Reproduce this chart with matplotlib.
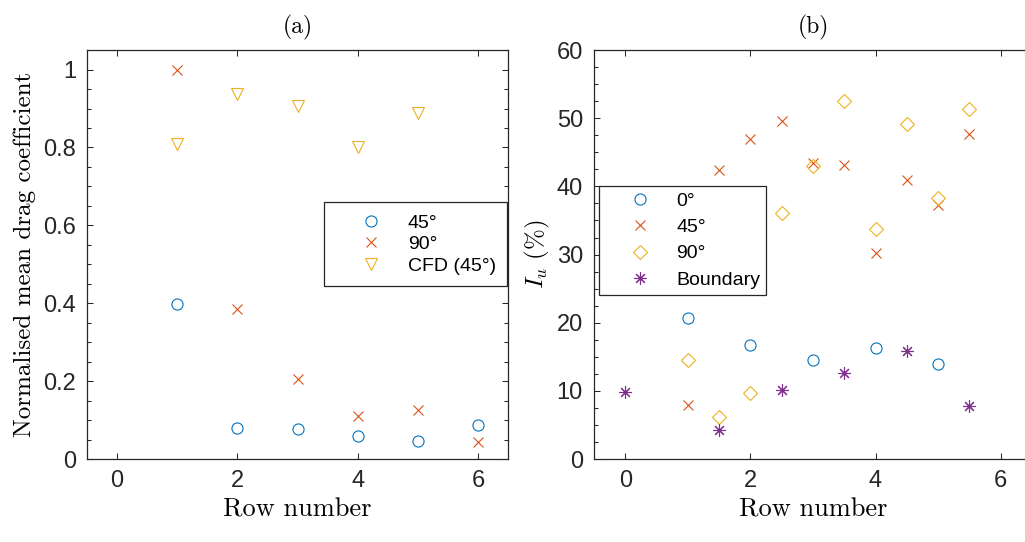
import matplotlib
matplotlib.use("Agg")
import matplotlib.pyplot as plt
from matplotlib.ticker import MultipleLocator, FuncFormatter

plt.rcParams['font.family'] = ['Liberation Sans', 'DejaVu Sans']
plt.rcParams['mathtext.fontset'] = 'cm'

# MATLAB default colour order
BLUE = '#0072BD'
ORANGE = '#D95319'
YELLOW = '#EDB120'
PURPLE = '#7E2F8E'
AXCOL = '#262626'

# --- panel (a): normalised mean drag coefficient ---
rows_a = [1, 2, 3, 4, 5, 6]
drag_45 = [0.398, 0.080, 0.076, 0.059, 0.047, 0.087]
drag_90 = [1.0, 0.385, 0.206, 0.111, 0.126, 0.045]
rows_cfd = [1, 2, 3, 4, 5]
drag_cfd = [0.81, 0.936, 0.906, 0.80, 0.889]

# --- panel (b): turbulence intensity I_u (%) ---
rows_0 = [1, 2, 3, 4, 5]
iu_0 = [20.7, 16.7, 14.6, 16.3, 13.9]
rows_half = [1, 1.5, 2, 2.5, 3, 3.5, 4, 4.5, 5, 5.5]
iu_45 = [8.0, 42.4, 47.0, 49.6, 43.5, 43.2, 30.3, 40.9, 37.3, 47.7]
iu_90 = [14.6, 6.2, 9.7, 36.1, 43.0, 52.5, 33.7, 49.1, 38.3, 51.4]
rows_bnd = [0, 1.5, 2.5, 3.5, 4.5, 5.5]
iu_bnd = [9.8, 4.2, 10.1, 12.6, 15.8, 7.8]

fig = plt.figure(figsize=(10.25, 5.42), dpi=100)
ax1 = fig.add_axes([0.0849, 0.153, 0.4107, 0.7546])
ax2 = fig.add_axes([0.5795, 0.153, 0.4273, 0.7546])

mk = dict(linestyle='none', markerfacecolor='none', markeredgewidth=0.8)

ax1.plot(rows_a, drag_45, 'o', color=BLUE, ms=8, label='45°', **mk)
ax1.plot(rows_a, drag_90, 'x', color=ORANGE, ms=7, label='90°', **mk)
ax1.plot(rows_cfd, drag_cfd, 'v', color=YELLOW, ms=8, label='CFD (45°)', **mk)

ax2.plot(rows_0, iu_0, 'o', color=BLUE, ms=8, label='0°', **mk)
ax2.plot(rows_half, iu_45, 'x', color=ORANGE, ms=7, label='45°', **mk)
ax2.plot(rows_half, iu_90, 'D', color=YELLOW, ms=7, label='90°', **mk)
ax2.plot(rows_bnd, iu_bnd, marker=(8, 2, 0), color=PURPLE, ms=9,
         label='Boundary', **mk)

fmt = FuncFormatter(lambda v, p: '%g' % v)
for ax in (ax1, ax2):
    ax.set_xlim(-0.5, 6.5)
    ax.set_xticks([0, 2, 4, 6])
    ax.tick_params(which='both', direction='in', top=True, right=True,
                   colors=AXCOL, labelsize=17, width=0.75)
    ax.tick_params(which='major', length=4, pad=8)
    ax.tick_params(which='minor', length=3)
    ax.tick_params(axis='x', which='minor', top=False, bottom=False)
    for s in ax.spines.values():
        s.set_color(AXCOL)
        s.set_linewidth(0.9)
    ax.set_xlabel('Row number', family='cmr10', fontsize=19, labelpad=4)
    ax.yaxis.set_major_formatter(fmt)

ax1.set_ylim(0, 1.05)
ax1.yaxis.set_major_locator(MultipleLocator(0.2))
ax1.yaxis.set_minor_locator(MultipleLocator(0.05))
ax1.set_ylabel('Normalised mean drag coefficient', family='cmr10',
               fontsize=18, labelpad=5)
ax1.set_title('(a)', family='cmr10', fontsize=17, pad=12)

ax2.set_ylim(0, 60)
ax2.yaxis.set_major_locator(MultipleLocator(10))
ax2.yaxis.set_minor_locator(MultipleLocator(2.5))
ax2.set_ylabel(r'$I_u\ (\%)$', fontsize=18, labelpad=3)
ax2.set_title('(b)', family='cmr10', fontsize=17, pad=12)

leg_kw = dict(loc='upper left', borderaxespad=0, fancybox=False,
              edgecolor=AXCOL, fontsize=14, handlelength=3.6,
              handletextpad=0.1, framealpha=1)
l1 = ax1.legend(bbox_to_anchor=(0.563, 0.628), borderpad=0.6,
                labelspacing=0.2, **leg_kw)
l2 = ax2.legend(bbox_to_anchor=(0.011, 0.667), borderpad=0.3,
                labelspacing=0.45, **leg_kw)
for lg in (l1, l2):
    lg.get_frame().set_linewidth(0.9)

fig.savefig('out.png', dpi=100)
